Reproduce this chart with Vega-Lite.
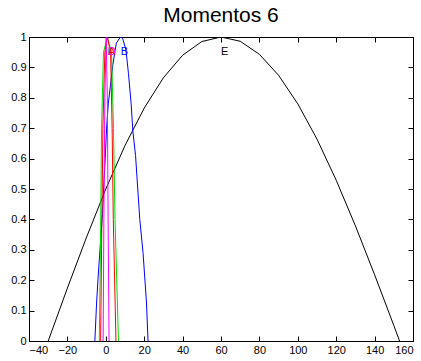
{
  "$schema": "https://vega.github.io/schema/vega-lite/v6.json",
  "width": 384,
  "height": 304,
  "autosize": {"type": "none"},
  "padding": {"left": 29, "top": 37, "right": 8, "bottom": 20},
  "background": "white",
  "title": {"text": "Momentos 6", "fontSize": 21, "font": "Liberation Sans", "fontWeight": "normal", "color": "black", "offset": 5, "anchor": "middle"},
  "config": {
    "view": {"stroke": "black", "strokeWidth": 1},
    "axis": {"labelFont": "Liberation Sans", "labelFontSize": 11, "labelColor": "black", "tickColor": "black", "domainColor": "black", "grid": false, "title": null, "tickSize": -5, "labelPadding": 8}
  },
  "datasets": {
    "curves": [
      {"series": "E", "x": -30, "y": 0}, {"series": "E", "x": -20, "y": 0.174}, {"series": "E", "x": -10, "y": 0.342}, {"series": "E", "x": 0, "y": 0.5}, {"series": "E", "x": 10, "y": 0.643}, {"series": "E", "x": 20, "y": 0.766}, {"series": "E", "x": 30, "y": 0.866}, {"series": "E", "x": 40, "y": 0.94}, {"series": "E", "x": 50, "y": 0.985}, {"series": "E", "x": 60, "y": 1}, {"series": "E", "x": 70, "y": 0.986}, {"series": "E", "x": 80, "y": 0.943}, {"series": "E", "x": 90, "y": 0.874}, {"series": "E", "x": 100, "y": 0.78}, {"series": "E", "x": 110, "y": 0.664}, {"series": "E", "x": 120, "y": 0.529}, {"series": "E", "x": 130, "y": 0.379}, {"series": "E", "x": 140, "y": 0.218}, {"series": "E", "x": 150, "y": 0.051}, {"series": "E", "x": 153, "y": 0},
      {"series": "B", "x": -5.7, "y": 0}, {"series": "B", "x": -4.8, "y": 0.125}, {"series": "B", "x": -4.0, "y": 0.21}, {"series": "B", "x": -2.7, "y": 0.33}, {"series": "B", "x": -1.7, "y": 0.42}, {"series": "B", "x": -1.0, "y": 0.52}, {"series": "B", "x": -0.3, "y": 0.6}, {"series": "B", "x": 0.4, "y": 0.7}, {"series": "B", "x": 1.3, "y": 0.78}, {"series": "B", "x": 3.7, "y": 0.91}, {"series": "B", "x": 5.5, "y": 0.98}, {"series": "B", "x": 7.6, "y": 1}, {"series": "B", "x": 8.8, "y": 0.995}, {"series": "B", "x": 10.5, "y": 0.957}, {"series": "B", "x": 11.8, "y": 0.88}, {"series": "B", "x": 13.2, "y": 0.78}, {"series": "B", "x": 14.1, "y": 0.69}, {"series": "B", "x": 15.5, "y": 0.61}, {"series": "B", "x": 17.7, "y": 0.4}, {"series": "B", "x": 19.4, "y": 0.29}, {"series": "B", "x": 21.2, "y": 0.125}, {"series": "B", "x": 22.0, "y": 0},
      {"series": "C", "x": -3.4, "y": 0}, {"series": "C", "x": -2.8, "y": 0.3}, {"series": "C", "x": -2.2, "y": 0.7}, {"series": "C", "x": -1.2, "y": 0.95}, {"series": "C", "x": 0.8, "y": 1}, {"series": "C", "x": 3.0, "y": 0.95}, {"series": "C", "x": 4.0, "y": 0.7}, {"series": "C", "x": 4.8, "y": 0.4}, {"series": "C", "x": 6.6, "y": 0},
      {"series": "A", "x": -2.7, "y": 0}, {"series": "A", "x": -2.2, "y": 0.3}, {"series": "A", "x": -1.5, "y": 0.7}, {"series": "A", "x": -0.5, "y": 0.95}, {"series": "A", "x": 0.8, "y": 1}, {"series": "A", "x": 2.5, "y": 0.95}, {"series": "A", "x": 3.3, "y": 0.7}, {"series": "A", "x": 3.9, "y": 0.4}, {"series": "A", "x": 5.3, "y": 0},
      {"series": "D", "x": -1.4, "y": 0}, {"series": "D", "x": -1.0, "y": 0.4}, {"series": "D", "x": -0.5, "y": 0.8}, {"series": "D", "x": 0.2, "y": 1}, {"series": "D", "x": 0.8, "y": 0.8}, {"series": "D", "x": 1.2, "y": 0.4}, {"series": "D", "x": 1.7, "y": 0}
    ],
    "labels": [
      {"series": "E", "label": "E", "x": 60, "y": 0.95},
      {"series": "B", "label": "B", "x": 7.8, "y": 0.95},
      {"series": "C", "label": "C", "x": 0.8, "y": 0.95},
      {"series": "A", "label": "A", "x": 1.2, "y": 0.95},
      {"series": "D", "label": "D", "x": 1.0, "y": 0.95}
    ]
  },
  "resolve": {"axis": {"x": "independent", "y": "independent"}},
  "layer": [
    {
      "data": {"name": "curves"},
      "mark": {"type": "line", "strokeWidth": 1, "clip": true},
      "encoding": {
        "x": {"field": "x", "type": "quantitative", "scale": {"domain": [-40, 160], "nice": false, "zero": false}, "axis": {"values": [-40, -20, 0, 20, 40, 60, 80, 100, 120, 140, 160], "orient": "bottom"}},
        "y": {"field": "y", "type": "quantitative", "scale": {"domain": [0, 1], "nice": false}, "axis": {"values": [0, 0.1, 0.2, 0.3, 0.4, 0.5, 0.6, 0.7, 0.8, 0.9, 1], "format": ".1~f", "orient": "left"}},
        "color": {"field": "series", "type": "nominal", "scale": {"domain": ["A", "B", "C", "D", "E"], "range": ["#ff0000", "#0000ff", "#00dd00", "#ff00ff", "#000000"]}, "legend": null},
        "detail": {"field": "series"}
      }
    },
    {
      "data": {"name": "labels"},
      "mark": {"type": "text", "align": "left", "baseline": "middle", "fontSize": 11, "font": "Liberation Sans"},
      "encoding": {
        "x": {"field": "x", "type": "quantitative", "axis": {"values": [-40, -20, 0, 20, 40, 60, 80, 100, 120, 140, 160], "orient": "top", "labels": false, "domain": false}},
        "y": {"field": "y", "type": "quantitative", "axis": {"values": [0, 0.1, 0.2, 0.3, 0.4, 0.5, 0.6, 0.7, 0.8, 0.9, 1], "orient": "right", "labels": false, "domain": false}},
        "text": {"field": "label"},
        "color": {"field": "series", "type": "nominal", "legend": null}
      }
    }
  ]
}
